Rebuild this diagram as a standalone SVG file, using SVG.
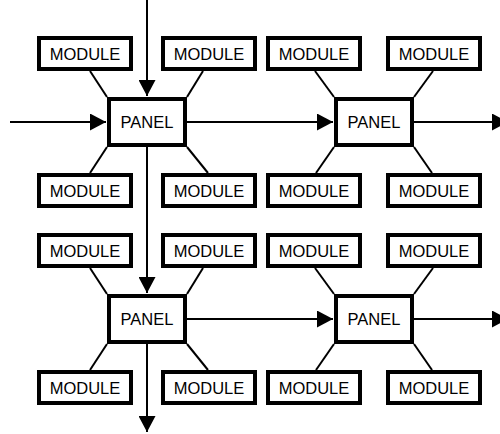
<svg xmlns="http://www.w3.org/2000/svg" width="500" height="434" viewBox="0 0 500 434">
<style>
.box{fill:#fff;stroke:#000;stroke-width:4}
.t{font-family:"Liberation Sans",Arial,sans-serif;font-size:16.5px;fill:#000;text-anchor:middle}
.ln{stroke:#000;stroke-width:2;fill:none}
.ar{stroke:#000;stroke-width:2;fill:none;marker-end:url(#ah)}
</style>
<defs>
<marker id="ah" markerUnits="userSpaceOnUse" markerWidth="16" markerHeight="17" refX="16" refY="8.5" orient="auto">
<path d="M0,0 L16,8.5 L0,17 z" fill="#000"/>
</marker>
</defs>
<rect width="500" height="434" fill="#fff"/>
<g id="connectors">
<line class="ar" x1="147" y1="0" x2="147" y2="96"/>
<line class="ar" x1="10" y1="122" x2="106" y2="122"/>
<line class="ar" x1="187" y1="122" x2="333" y2="122"/>
<line class="ar" x1="414" y1="122" x2="508" y2="122"/>
<line class="ar" x1="147" y1="147" x2="147" y2="293"/>
<line class="ar" x1="187" y1="319" x2="333" y2="319"/>
<line class="ar" x1="414" y1="319" x2="508" y2="319"/>
<line class="ar" x1="147" y1="344" x2="147" y2="432"/>
<line class="ln" x1="90" y1="71" x2="107" y2="97"/>
<line class="ln" x1="203" y1="71" x2="187" y2="97"/>
<line class="ln" x1="107" y1="147" x2="90" y2="173"/>
<line class="ln" x1="187" y1="147" x2="208" y2="173"/>
<line class="ln" x1="315" y1="71" x2="334" y2="97"/>
<line class="ln" x1="433" y1="71" x2="414" y2="97"/>
<line class="ln" x1="334" y1="147" x2="316" y2="173"/>
<line class="ln" x1="414" y1="147" x2="432" y2="173"/>
<line class="ln" x1="90" y1="268" x2="107" y2="294"/>
<line class="ln" x1="203" y1="268" x2="187" y2="294"/>
<line class="ln" x1="107" y1="344" x2="90" y2="370"/>
<line class="ln" x1="187" y1="344" x2="208" y2="370"/>
<line class="ln" x1="315" y1="268" x2="334" y2="294"/>
<line class="ln" x1="433" y1="268" x2="414" y2="294"/>
<line class="ln" x1="334" y1="344" x2="316" y2="370"/>
<line class="ln" x1="414" y1="344" x2="432" y2="370"/>
</g>
<g id="m1"><rect class="box" x="39" y="38" width="92" height="31"/><text class="t" x="85" y="59.5">MODULE</text></g>
<g id="m2"><rect class="box" x="163" y="38" width="92" height="31"/><text class="t" x="209" y="59.5">MODULE</text></g>
<g id="m3"><rect class="box" x="268" y="38" width="92" height="31"/><text class="t" x="314" y="59.5">MODULE</text></g>
<g id="m4"><rect class="box" x="388" y="38" width="92" height="31"/><text class="t" x="434" y="59.5">MODULE</text></g>
<g id="p1"><rect class="box" x="109" y="99" width="76" height="46"/><text class="t" x="147" y="128">PANEL</text></g>
<g id="p2"><rect class="box" x="336" y="99" width="76" height="46"/><text class="t" x="374" y="128">PANEL</text></g>
<g id="m5"><rect class="box" x="39" y="175" width="92" height="31"/><text class="t" x="85" y="196.5">MODULE</text></g>
<g id="m6"><rect class="box" x="163" y="175" width="92" height="31"/><text class="t" x="209" y="196.5">MODULE</text></g>
<g id="m7"><rect class="box" x="268" y="175" width="92" height="31"/><text class="t" x="314" y="196.5">MODULE</text></g>
<g id="m8"><rect class="box" x="388" y="175" width="92" height="31"/><text class="t" x="434" y="196.5">MODULE</text></g>
<g id="m9"><rect class="box" x="39" y="235" width="92" height="31"/><text class="t" x="85" y="256.5">MODULE</text></g>
<g id="m10"><rect class="box" x="163" y="235" width="92" height="31"/><text class="t" x="209" y="256.5">MODULE</text></g>
<g id="m11"><rect class="box" x="268" y="235" width="92" height="31"/><text class="t" x="314" y="256.5">MODULE</text></g>
<g id="m12"><rect class="box" x="388" y="235" width="92" height="31"/><text class="t" x="434" y="256.5">MODULE</text></g>
<g id="p3"><rect class="box" x="109" y="296" width="76" height="46"/><text class="t" x="147" y="325">PANEL</text></g>
<g id="p4"><rect class="box" x="336" y="296" width="76" height="46"/><text class="t" x="374" y="325">PANEL</text></g>
<g id="m13"><rect class="box" x="39" y="372" width="92" height="31"/><text class="t" x="85" y="393.5">MODULE</text></g>
<g id="m14"><rect class="box" x="163" y="372" width="92" height="31"/><text class="t" x="209" y="393.5">MODULE</text></g>
<g id="m15"><rect class="box" x="268" y="372" width="92" height="31"/><text class="t" x="314" y="393.5">MODULE</text></g>
<g id="m16"><rect class="box" x="388" y="372" width="92" height="31"/><text class="t" x="434" y="393.5">MODULE</text></g>
</svg>
